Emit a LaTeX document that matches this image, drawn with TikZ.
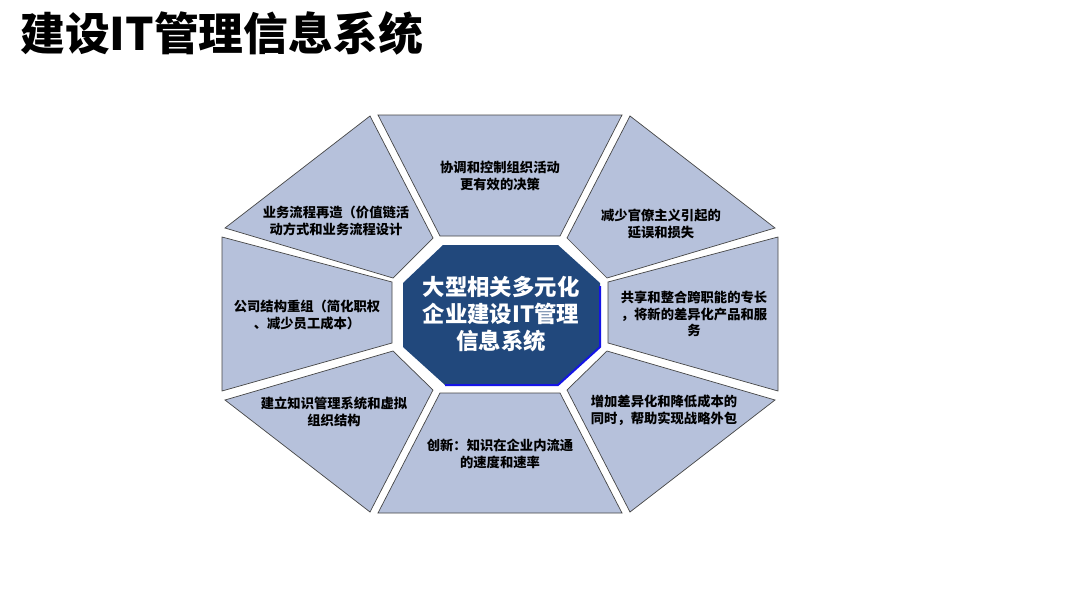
\documentclass[tikz,border=0pt]{standalone}
\usepackage{fontspec}
\newfontfamily\cjk{Noto Sans CJK SC}
\definecolor{segfill}{RGB}{182,193,219}
\definecolor{segline}{RGB}{70,70,70}
\definecolor{hubfill}{RGB}{33,72,124}
\definecolor{hubedge}{RGB}{20,20,230}
\tikzset{
  seg/.style={fill=segfill, draw=segline, line width=0.7pt, line join=miter},
  segtext/.style={align=center, inner sep=0pt, text=black,
    font=\cjk\bfseries\fontsize{13.3}{16.5}\selectfont},
  hubtext/.style={align=center, inner sep=0pt, text=white,
    font=\cjk\bfseries\fontsize{22.4}{27}\selectfont},
  titletext/.style={anchor=west, inner sep=0pt, text=black,
    font=\cjk\bfseries\fontsize{44.8}{50}\selectfont}
}
\begin{document}
\begin{tikzpicture}[x=1pt,y=-1pt]
\useasboundingbox (0,0) rectangle (1080,608);
\fill[white] (0,0) rectangle (1080,608);
% title
\node[titletext] (title) at (20,33) {建设IT管理信息系统};
% segments
\draw[seg] (378,115) -- (622,115) -- (560,236) -- (440,236) -- cycle;
\draw[seg] (378,513) -- (622,513) -- (560,393) -- (440,393) -- cycle;
\draw[seg] (370,116) -- (225,228) -- (393,278) -- (433,238) -- cycle;
\draw[seg] (630,116) -- (775,228) -- (607,278) -- (567,238) -- cycle;
\draw[seg] (222,237) -- (222,391) -- (392,343) -- (392,282) -- cycle;
\draw[seg] (778,237) -- (778,391) -- (608,343) -- (608,282) -- cycle;
\draw[seg] (225,400) -- (370,512) -- (433,390) -- (393,351) -- cycle;
\draw[seg] (775,400) -- (630,512) -- (567,390) -- (607,351) -- cycle;
% hub
\fill[hubfill] (443,245) -- (558,245) -- (600,283) -- (600,347) -- (558,385) -- (445,385) -- (403,347) -- (403,283) -- cycle;
\draw[hubedge, line width=2pt] (600,286) -- (600,347) -- (558,385) -- (445,385);
% texts
\node[segtext] (t1) at (500,176) {协调和控制组织活动\\更有效的决策};
\node[segtext] (t2) at (336,221) {业务流程再造（价值链活\\动方式和业务流程设计};
\node[segtext] (t3) at (661,224) {减少官僚主义引起的\\延误和损失};
\node[segtext] (t4) at (307,315) {公司结构重组（简化职权\\、减少员工成本）};
\node[segtext] (t5) at (694,314) {共享和整合跨职能的专长\\，将新的差异化产品和服\\务};
\node[segtext] (t6) at (664,410) {增加差异化和降低成本的\\同时，帮助实现战略外包};
\node[segtext] (t7) at (334,412) {建立知识管理系统和虚拟\\组织结构};
\node[segtext] (t8) at (500,454) {创新：知识在企业内流通\\的速度和速率};
\node[hubtext] (hub) at (501,314) {大型相关多元化\\企业建设IT管理\\信息系统};
\end{tikzpicture}
\end{document}
